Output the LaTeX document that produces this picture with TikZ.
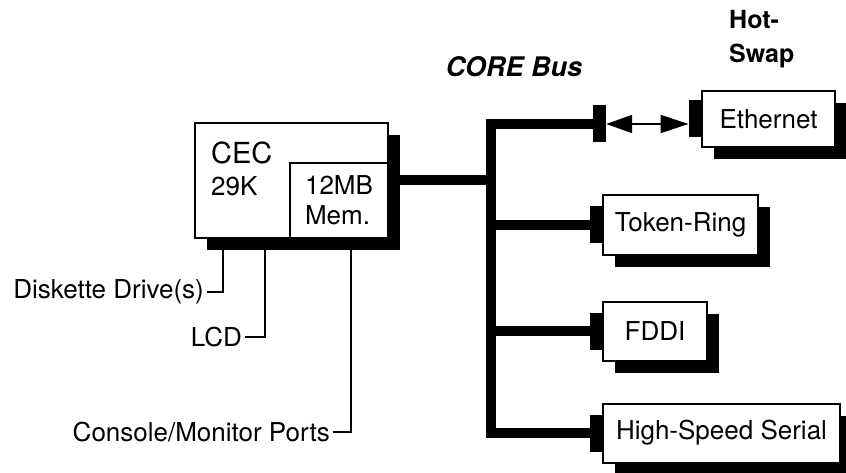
\documentclass[tikz,border=0pt]{standalone}
\usepackage{fontspec}
\setmainfont{TeX Gyre Heros}
\usetikzlibrary{shadows,arrows.meta,positioning}

\begin{document}
\begin{tikzpicture}[x=1pt, y=-1pt,
                   font=\fontsize{26}{30}\selectfont,
                   box/.style={draw, line width=2pt, fill=white, inner sep=0pt,
                     drop shadow={shadow xshift=12pt, shadow yshift=-12pt, fill=black, opacity=1}},
                   membox/.style={draw, line width=2pt, fill=white, inner sep=0pt},
                   plug/.style={fill=black, inner sep=0pt, minimum width=12pt, minimum height=37pt},
                   bus/.style={line width=10pt, line join=miter},
                   wire/.style={line width=1.8pt},
                   lbl/.style={inner sep=0pt, inner xsep=3pt}]
          \useasboundingbox (0,0) rectangle (846,473);
          % headings
          \node[font=\bfseries\itshape\fontsize{27}{30}\selectfont] (corelbl) at (514,67) {CORE Bus};
          \node[anchor=north west, align=left, inner sep=0pt,
                font=\bfseries\fontsize{25}{34}\selectfont] (hotswap) at (729,10) {Hot-\\Swap};
          % CEC with memory
          \node[box, minimum width=193pt, minimum height=115pt] (cec) at (291.5,180.5) {};
          \node[membox, anchor=south east, minimum width=98pt, minimum height=75pt,
                align=left] (mem) at (cec.south east) {12MB\\Mem.};
          \node[anchor=north west, align=left, inner sep=0pt, font=\fontsize{26}{32}\selectfont]
                (cectxt) at (211,142) {{\fontsize{29}{32}\selectfont CEC}\\29K};
          % adapters
          \node[box, minimum width=133pt, minimum height=56pt] (eth) at (768.5,119) {Ethernet};
          \node[box, minimum width=155pt, minimum height=60pt] (tok) at (680.5,225) {Token-Ring};
          \node[box, minimum width=104pt, minimum height=59pt] (fddi) at (655,331) {FDDI};
          \node[box, minimum width=237pt, minimum height=59pt] (hss) at (721.5,433) {High-Speed Serial};
          \node[plug, left=0pt of eth] (ethplug) {};
          \node[plug, left=0pt of tok] (tokplug) {};
          \node[plug, left=0pt of fddi] (fddiplug) {};
          \node[plug, left=0pt of hss] (hssplug) {};
          \node[plug, minimum width=13pt] (stub) at (599.5,124) {};
          % bus
          \coordinate (bustop) at (491,124);
          \draw[bus] (stub.west) -- (bustop) |- (hssplug.west);
          \draw[bus] (cec.east) -- (cec.east -| bustop);
          \draw[bus] (tokplug.west) -- (tokplug.west -| bustop);
          \draw[bus] (fddiplug.west) -- (fddiplug.west -| bustop);
          \draw[line width=2pt, {Triangle[length=26pt,width=18pt]}-{Triangle[length=28pt,width=18pt]}]
                (stub.east) -- (stub.east -| ethplug.west);
          % peripherals
          \coordinate (disktap) at (223,250);
          \coordinate (lcdtap) at (265,250);
          \coordinate (contap) at (351,250);
          \node[lbl, anchor=east] (disk) at (207,292) {Diskette Drive(s)};
          \node[lbl, anchor=east] (lcd) at (245,337) {LCD};
          \node[lbl, anchor=east] (con) at (333,432) {Console/Monitor Ports};
          \draw[wire] (disktap) |- (disk.east);
          \draw[wire] (lcdtap) |- (lcd.east);
          \draw[wire] (contap) |- (con.east);
        \end{tikzpicture}
\end{document}
